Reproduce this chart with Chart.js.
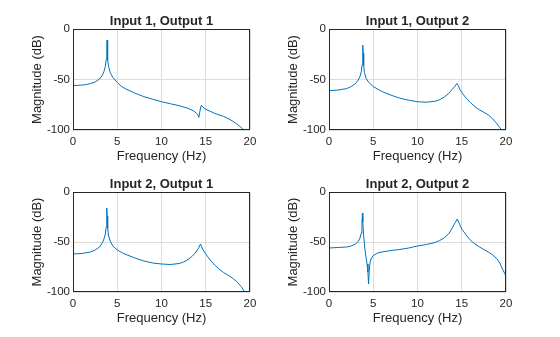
<!DOCTYPE html>
<html>
<head>
<meta charset="utf-8">
<script src="https://cdn.jsdelivr.net/npm/chart.js@4/dist/chart.umd.min.js"></script>
<style>
  body { margin: 0; background: #fff; width: 560px; height: 337px; position: relative; overflow: hidden; }
  canvas { position: absolute; }
</style>
</head>
<body>
<canvas id="c11" width="280" height="168" style="left:0;top:0"></canvas>
<canvas id="c12" width="280" height="168" style="left:256px;top:0"></canvas>
<canvas id="c21" width="280" height="168" style="left:0;top:163px"></canvas>
<canvas id="c22" width="280" height="168" style="left:256px;top:163px"></canvas>
<script>
// valeurs (Hz / dB)
const xTicks = [0, 5, 10, 15, 20];
const yTicks = [-100, -50, 0];

const freqIn1Out1 = [0, 0.5, 1, 1.5, 2, 2.5, 3, 3.3, 3.5, 3.65, 3.75, 3.82, 3.85, 3.88, 3.95, 4.05, 4.2, 4.5, 5, 5.5, 6, 7, 8, 9, 10, 11, 12, 13, 13.6, 13.9, 14.1, 14.22, 14.35, 14.5, 14.7, 15, 15.5, 16, 16.5, 17, 17.5, 18, 18.5, 19, 19.3, 19.6, 20];
const magIn1Out1 = [-56, -55.8, -55.5, -55, -54, -52.5, -49.5, -46, -42, -37, -30, -20, -11, -20, -31, -38, -43, -48, -53, -57, -59.5, -63.5, -67, -69.5, -72, -74, -76, -78.5, -81, -83, -85, -87.5, -81, -75.5, -77.5, -79.5, -81.5, -83.5, -85, -86.5, -88.5, -91, -94, -97.5, -100, -103, -107];

const freqIn1Out2 = [0, 1, 2, 2.5, 3, 3.3, 3.5, 3.65, 3.75, 3.8, 3.83, 3.86, 3.92, 4, 4.2, 4.5, 5, 5.5, 6, 7, 8, 9, 10, 11, 12, 12.5, 13, 13.5, 13.9, 14.2, 14.45, 14.6, 14.8, 15.1, 15.5, 16, 16.5, 17, 17.5, 18, 18.5, 19, 19.5, 20];
const magIn1Out2 = [-61, -60.5, -59, -57, -54, -50.5, -47, -42, -35, -25, -16, -24, -36, -43, -49, -53, -57, -59.5, -62, -65.5, -68.5, -70.5, -72, -72.5, -71.5, -70, -67.5, -64, -60, -57, -54, -56, -60, -64, -68.5, -73, -77, -80, -82.5, -85, -89, -94, -100, -106];

const freqIn2Out1 = [0, 1, 2, 2.5, 3, 3.3, 3.5, 3.65, 3.75, 3.8, 3.83, 3.86, 3.92, 4, 4.2, 4.5, 5, 5.5, 6, 7, 8, 9, 10, 11, 12, 12.5, 13, 13.5, 13.9, 14.2, 14.4, 14.5, 14.7, 15, 15.5, 16, 16.5, 17, 17.5, 18, 18.5, 19, 19.4, 20];
const magIn2Out1 = [-62, -61.5, -60, -58, -55, -51, -47, -42, -35, -25, -16, -24, -36, -43, -49, -54, -58, -60.5, -62.5, -66, -69, -71, -72, -72.5, -71.5, -70, -67.5, -64, -60, -56, -52, -54, -58, -62, -68, -73, -77, -80.5, -83, -86, -89.5, -94.5, -100, -107];

const freqIn2Out2 = [0, 1, 2, 2.5, 3, 3.3, 3.5, 3.65, 3.72, 3.77, 3.82, 3.9, 4, 4.1, 4.2, 4.3, 4.4, 4.47, 4.55, 4.65, 4.8, 5, 5.5, 6, 7, 8, 9, 10, 11, 12, 12.5, 13, 13.5, 13.8, 14.1, 14.3, 14.5, 14.7, 15, 15.5, 16, 16.5, 17, 17.5, 18, 18.5, 19, 19.3, 19.6, 20];
const magIn2Out2 = [-56, -55.5, -55, -54, -52, -49.5, -46, -41, -33, -21, -30, -42, -52, -60, -66, -72, -80, -92, -78, -70, -66, -63.5, -61, -60, -58.5, -57.5, -56, -54, -52.5, -50.5, -48.5, -46, -42, -38, -33, -30, -27, -31, -37, -43, -48.5, -52, -55, -57.5, -60, -63, -67, -71, -77, -84];

const FONT = '"Liberation Sans", Arial, Helvetica, sans-serif';
const TEXT = '#262626';
const GRID = '#dcdcdc';
const LINE = '#0072BD';

// cadre complet + titre centré sur la zone de tracé
const cadre = {
  id: 'cadre',
  afterDraw(chart, args, opts) {
    const { ctx, chartArea: a } = chart;
    ctx.save();
    ctx.strokeStyle = TEXT;
    ctx.lineWidth = 1;
    ctx.strokeRect(Math.round(a.left) + 0.5, Math.round(a.top) + 0.5,
      Math.round(a.right - a.left) - 1, Math.round(a.bottom - a.top) - 1);
    ctx.fillStyle = TEXT;
    ctx.font = 'bold 13px ' + FONT;
    ctx.textAlign = 'center';
    ctx.textBaseline = 'alphabetic';
    ctx.fillText(opts.texte, (a.left + a.right) / 2, a.top - 4.5);
    ctx.restore();
  }
};

function tracer(id, titre, freq, mag, hauteur) {
  const bas = 168 - 29 - hauteur;
  new Chart(document.getElementById(id), {
    type: 'line',
    data: {
      datasets: [{
        data: freq.map((f, i) => ({ x: f, y: mag[i] })),
        borderColor: LINE,
        borderWidth: 1,
        pointRadius: 0,
        tension: 0
      }]
    },
    options: {
      responsive: false,
      animation: false,
      events: [],
      layout: { padding: { left: 0, right: 30, top: 29, bottom: 0 } },
      plugins: {
        legend: { display: false },
        tooltip: { enabled: false },
        cadre: { texte: titre }
      },
      scales: {
        x: {
          type: 'linear',
          min: 0,
          max: 20,
          afterBuildTicks: (s) => { s.ticks = xTicks.map((v) => ({ value: v })); },
          afterFit: (s) => { s.height = bas; },
          grid: { color: GRID, drawTicks: false },
          border: { display: false },
          ticks: { color: TEXT, font: { family: FONT, size: 11.5 }, padding: 5, maxRotation: 0 },
          title: {
            display: true,
            text: 'Frequency (Hz)',
            color: TEXT,
            font: { family: FONT, size: 13 },
            padding: { top: 0, bottom: bas - 26 - 7.8 }
          }
        },
        y: {
          min: -100,
          max: 0,
          afterBuildTicks: (s) => { s.ticks = yTicks.map((v) => ({ value: v })); },
          afterFit: (s) => { s.width = 73; },
          grid: { color: GRID, drawTicks: false },
          border: { display: false },
          ticks: { color: TEXT, font: { family: FONT, size: 11.5 }, padding: 3 },
          title: {
            display: true,
            text: 'Magnitude (dB)',
            color: TEXT,
            font: { family: FONT, size: 13 },
            padding: { top: 29.2, bottom: 0 }
          }
        }
      }
    },
    plugins: [cadre]
  });
}

tracer('c11', 'Input 1, Output 1', freqIn1Out1, magIn1Out1, 101);
tracer('c12', 'Input 1, Output 2', freqIn1Out2, magIn1Out2, 101);
tracer('c21', 'Input 2, Output 1', freqIn2Out1, magIn2Out1, 100);
tracer('c22', 'Input 2, Output 2', freqIn2Out2, magIn2Out2, 100);
</script>
</body>
</html>
